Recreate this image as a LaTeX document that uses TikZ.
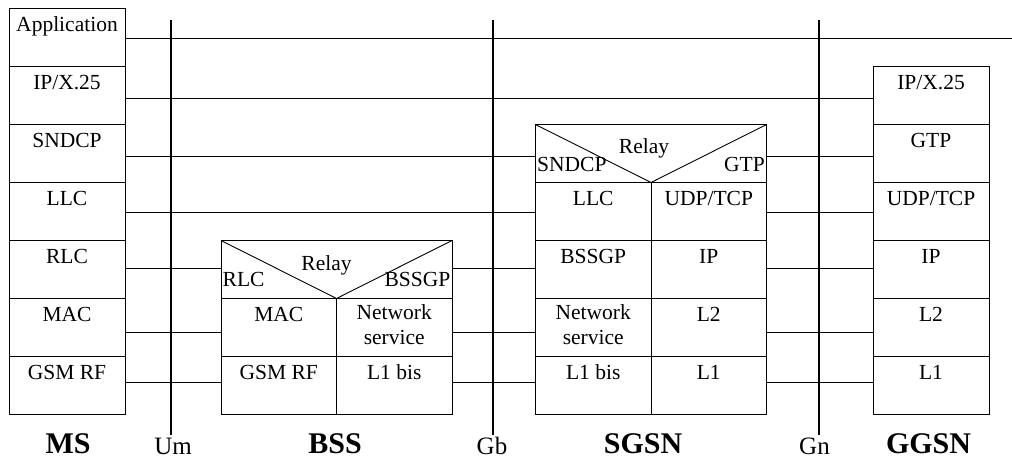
\documentclass[tikz,border=0pt]{standalone}
\usepackage{fontspec}
\setmainfont{Liberation Serif}
\begin{document}
\begin{tikzpicture}[x=1pt,y=-1pt,
  cell/.style={draw, line width=0.9pt, rectangle, inner sep=0pt, outer sep=0pt, anchor=north west},
  txt/.style={font=\fontsize{21.5}{25}\selectfont, anchor=base, inner sep=0pt, align=center},
  sidetxt/.style={font=\fontsize{21.5}{25}\selectfont, anchor=base west, inner sep=0pt},
  wire/.style={line width=0.8pt},
  iface/.style={line width=2.6pt},
  ifacelabel/.style={font=\fontsize{25}{28}\selectfont, anchor=base, inner sep=0pt},
  entity/.style={font=\fontsize{30}{34}\selectfont\bfseries, anchor=base, inner sep=0pt}]
\useasboundingbox (0,0) rectangle (1012,459);

% ---- MS protocol stack ----
\foreach \t [count=\i] in {Application, IP/X.25, SNDCP, LLC, RLC, MAC, GSM RF} {
  \node[cell, minimum width=116pt, minimum height=58pt] (ms\i) at (9, 8.5+58*\i-58) {};
  \node[txt, yshift=-22.5pt] (mst\i) at (ms\i.north) {\t};
}

% ---- GGSN protocol stack ----
\foreach \t [count=\i] in {IP/X.25, GTP, UDP/TCP, IP, L2, L1} {
  \node[cell, minimum width=116pt, minimum height=58pt] (gg\i) at (873, 66.5+58*\i-58) {};
  \node[txt, yshift=-22.5pt] (ggt\i) at (gg\i.north) {\t};
}

% ---- BSS: relay row and two columns ----
\node[cell, minimum width=231pt, minimum height=58pt] (bssr) at (221,240.5) {};
\draw[line width=0.9pt] (bssr.north west) -- (bssr.south) -- (bssr.north east);
\node[txt] (bssrelay) at (326.5,270) {Relay};
\node[sidetxt] (bssrl) at (222.5,286.5) {RLC};
\node[txt, anchor=base east] (bssrr) at (450.5,286.5) {BSSGP};
\node[cell, minimum width=115.5pt, minimum height=58pt] (bssa1) at (221,298.5) {};
\node[cell, minimum width=115.5pt, minimum height=58pt] (bssb1) at (336.5,298.5) {};
\node[cell, minimum width=115.5pt, minimum height=58pt] (bssa2) at (221,356.5) {};
\node[cell, minimum width=115.5pt, minimum height=58pt] (bssb2) at (336.5,356.5) {};
\node[txt, yshift=-22.5pt] (bssta1) at (bssa1.north) {MAC};
\node[txt, anchor=north, yshift=-6pt] (bsstb1) at (bssb1.north) {Network\\service};
\node[txt, yshift=-22.5pt] (bssta2) at (bssa2.north) {GSM RF};
\node[txt, yshift=-22.5pt] (bsstb2) at (bssb2.north) {L1 bis};

% ---- SGSN: relay row and two columns ----
\node[cell, minimum width=231pt, minimum height=58pt] (sgr) at (535.5,124.5) {};
\draw[line width=0.9pt] (sgr.north west) -- (sgr.south) -- (sgr.north east);
\node[txt] (sgrelay) at (644,153.5) {Relay};
\node[sidetxt] (sgrl) at (537,171) {SNDCP};
\node[txt, anchor=base east] (sgrr) at (765,171) {GTP};
\foreach \i in {1,...,4} {
  \node[cell, minimum width=115.5pt, minimum height=58pt] (sga\i) at (535.5, 182.5+58*\i-58) {};
  \node[cell, minimum width=115.5pt, minimum height=58pt] (sgb\i) at (651, 182.5+58*\i-58) {};
}
\node[txt, yshift=-22.5pt] (sgta1) at (sga1.north) {LLC};
\node[txt, yshift=-22.5pt] (sgtb1) at (sgb1.north) {UDP/TCP};
\node[txt, yshift=-22.5pt] (sgta2) at (sga2.north) {BSSGP};
\node[txt, yshift=-22.5pt] (sgtb2) at (sgb2.north) {IP};
\node[txt, anchor=north, yshift=-6pt] (sgta3) at (sga3.north) {Network\\service};
\node[txt, yshift=-22.5pt] (sgtb3) at (sgb3.north) {L2};
\node[txt, yshift=-22.5pt] (sgta4) at (sga4.north) {L1 bis};
\node[txt, yshift=-22.5pt] (sgtb4) at (sgb4.north) {L1};

% ---- heights of the peer-to-peer lines ----
\coordinate (yapp) at (0,38.3);
\coordinate (yip) at (0,98.7);
\coordinate (ysn) at (0,156.4);
\coordinate (yllc) at (0,212.6);
\coordinate (yrlc) at (0,268.8);
\coordinate (ymac) at (0,332.6);
\coordinate (yrf) at (0,382.5);
\coordinate (append) at (1012,38.3);

% ---- peer-to-peer lines ----
\draw[wire] (ms1.east |- yapp) -- (append);
\draw[wire] (ms2.east |- yip) -- (gg1.west |- yip);
\draw[wire] (ms3.east |- ysn) -- (sgr.west |- ysn);
\draw[wire] (sgr.east |- ysn) -- (gg2.west |- ysn);
\draw[wire] (ms4.east |- yllc) -- (sga1.west |- yllc);
\draw[wire] (sgb1.east |- yllc) -- (gg3.west |- yllc);
\draw[wire] (ms5.east |- yrlc) -- (bssr.west |- yrlc);
\draw[wire] (bssr.east |- yrlc) -- (sga2.west |- yrlc);
\draw[wire] (sgb2.east |- yrlc) -- (gg4.west |- yrlc);
\draw[wire] (ms6.east |- ymac) -- (bssa1.west |- ymac);
\draw[wire] (bssb1.east |- ymac) -- (sga3.west |- ymac);
\draw[wire] (sgb3.east |- ymac) -- (gg5.west |- ymac);
\draw[wire] (ms7.east |- yrf) -- (bssa2.west |- yrf);
\draw[wire] (bssb2.east |- yrf) -- (sga4.west |- yrf);
\draw[wire] (sgb4.east |- yrf) -- (gg6.west |- yrf);

% ---- interfaces ----
\coordinate (umtop) at (171,19.5);
\coordinate (umbot) at (171,435);
\coordinate (gbtop) at (493,19.5);
\coordinate (gbbot) at (493,435);
\coordinate (gntop) at (819,19.5);
\coordinate (gnbot) at (819,435);
\draw[iface] (umtop) -- (umbot);
\draw[iface] (gbtop) -- (gbbot);
\draw[iface] (gntop) -- (gnbot);
\node[ifacelabel] (um) at (173,454) {Um};
\node[ifacelabel] (gb) at (492,454) {Gb};
\node[ifacelabel] (gn) at (814.5,454) {Gn};

% ---- entity names ----
\node[entity] (msname) at (68,453) {MS};
\node[entity] (bssname) at (335,453) {BSS};
\node[entity] (sgsnname) at (643,453) {SGSN};
\node[entity] (ggsnname) at (928.5,453) {GGSN};
\end{tikzpicture}
\end{document}
